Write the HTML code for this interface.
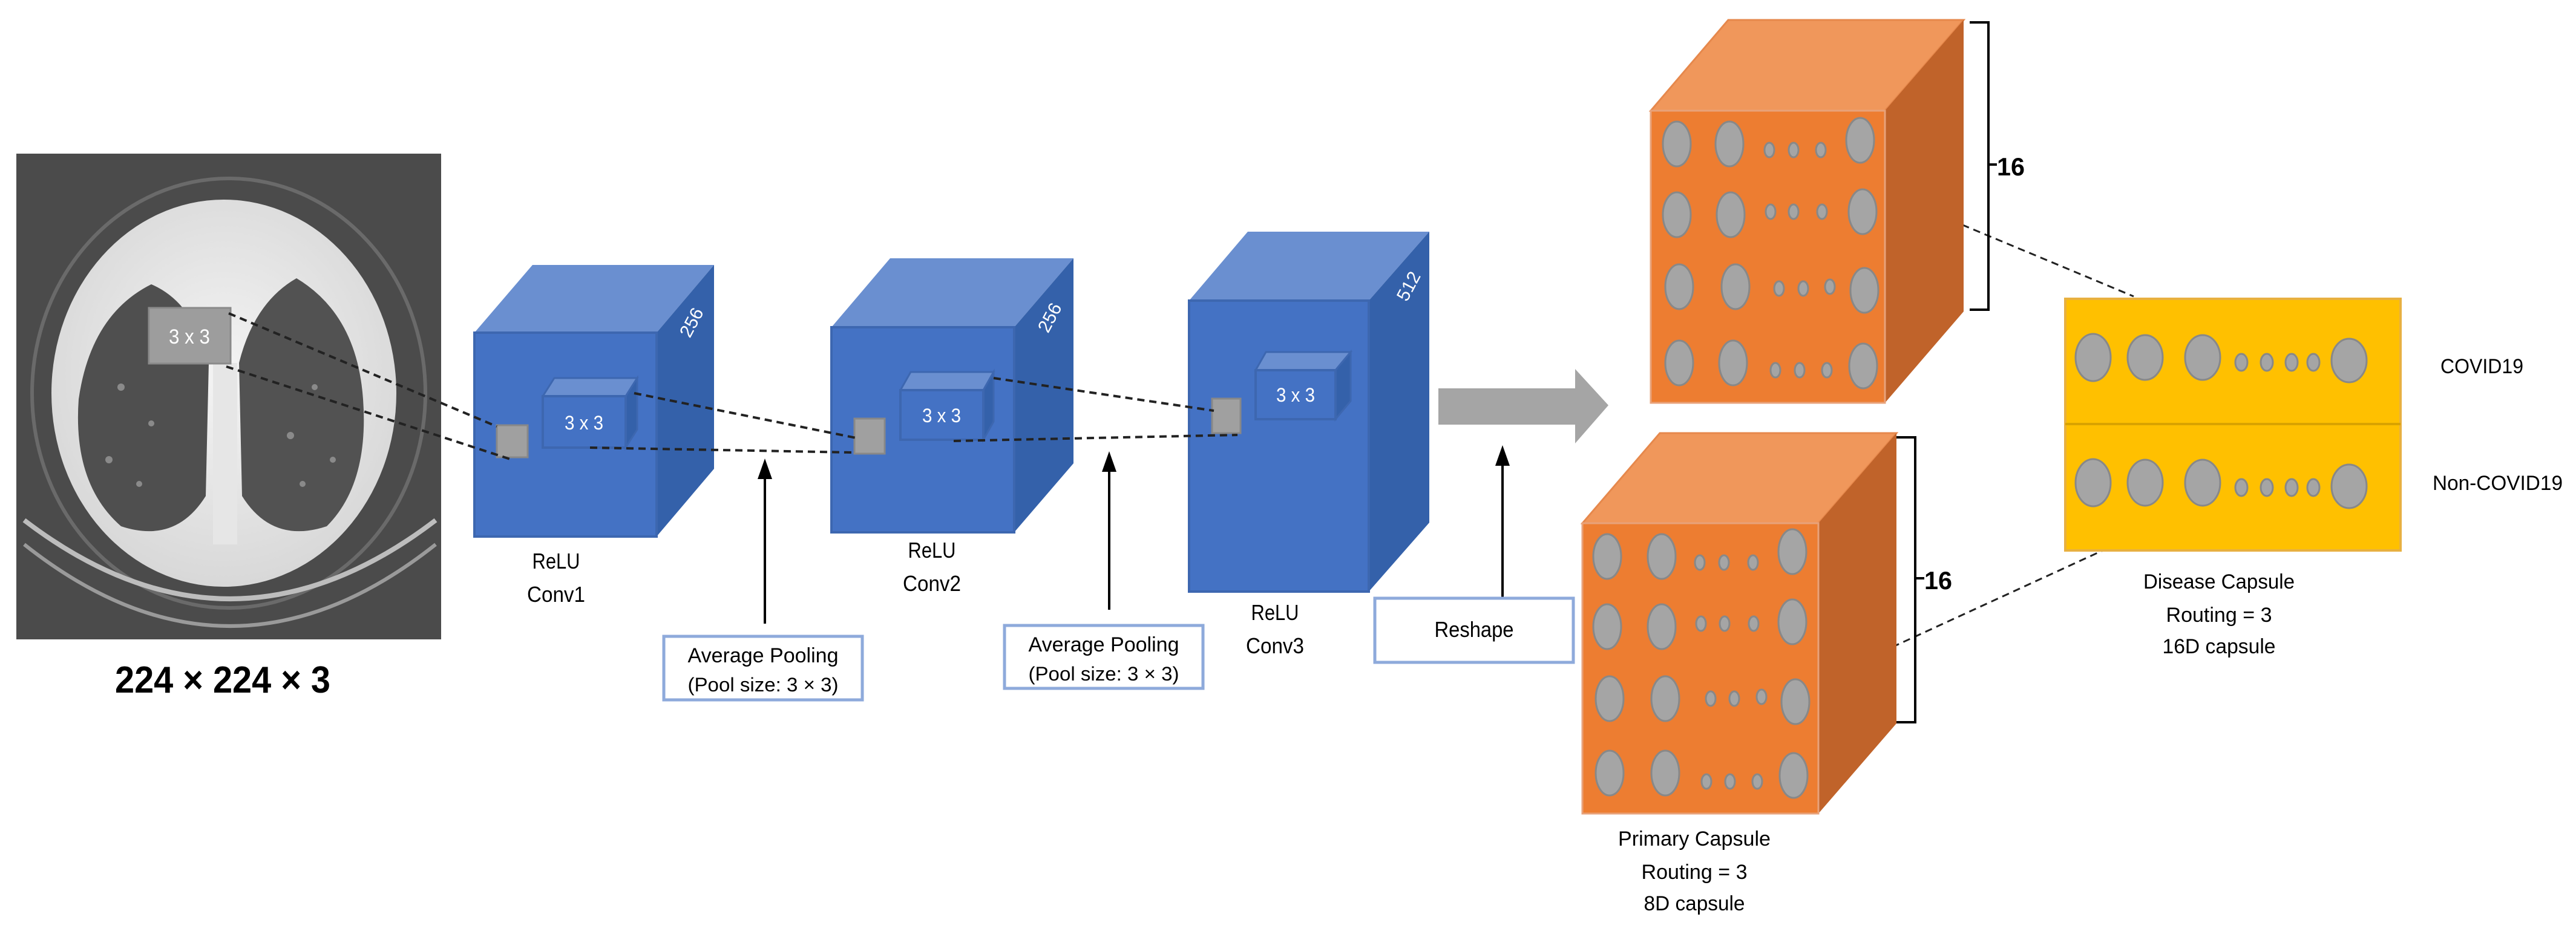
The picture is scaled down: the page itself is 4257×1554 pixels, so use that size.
<!DOCTYPE html>
<html><head><meta charset="utf-8"><style>
html,body{margin:0;padding:0;background:#fff;width:4257px;height:1554px;overflow:hidden}
svg{display:block}
text{font-family:"Liberation Sans Narrow","Liberation Sans",sans-serif;fill:#000}
</style></head><body>
<svg width="4257" height="1554" viewBox="0 0 4257 1554" xmlns="http://www.w3.org/2000/svg">
<defs>
<radialGradient id="body" cx="50%" cy="45%" r="55%"><stop offset="0" stop-color="#f4f4f4"/><stop offset="1" stop-color="#d8d8d8"/></radialGradient>
</defs>

<!-- CT image -->
<rect x="27" y="254" width="702" height="803" fill="#4b4b4b"/>
<ellipse cx="378" cy="650" rx="325" ry="355" fill="none" stroke="#6a6a6a" stroke-width="6"/>
<path d="M40 860 Q380 1120 720 860" fill="none" stroke="#bdbdbd" stroke-width="8"/>
<path d="M40 900 Q380 1170 720 900" fill="none" stroke="#9a9a9a" stroke-width="6"/>
<ellipse cx="370" cy="650" rx="285" ry="320" fill="url(#body)"/>
<path d="M250 470 Q150 520 130 660 Q120 800 200 870 Q290 900 340 820 L345 600 Q320 500 250 470Z" fill="#4f4f4f"/>
<path d="M490 460 Q590 520 600 660 Q610 800 540 870 Q450 900 400 820 L395 600 Q420 500 490 460Z" fill="#525252"/>
<g fill="#8a8a8a"><circle cx="200" cy="640" r="6"/><circle cx="250" cy="700" r="5"/><circle cx="180" cy="760" r="6"/><circle cx="520" cy="640" r="5"/><circle cx="480" cy="720" r="6"/><circle cx="550" cy="760" r="5"/><circle cx="230" cy="800" r="5"/><circle cx="500" cy="800" r="5"/></g>
<rect x="352" y="600" width="40" height="300" fill="#e6e6e6"/>
<rect x="246" y="509" width="135" height="92" fill="#9d9d9d" stroke="#8a8a8a" stroke-width="3"/>
<text x="313" y="568" font-size="34" style="fill:#fff" text-anchor="middle" textLength="68" lengthAdjust="spacingAndGlyphs">3 x 3</text>
<text x="368" y="1145" font-size="62" font-weight="bold" text-anchor="middle" textLength="356" lengthAdjust="spacingAndGlyphs">224 × 224 × 3</text>

<!-- Conv1 -->
<polygon points="784,550 880,438 1180,438 1085,550" fill="#6a8fd0"/>
<polygon points="1085,550 1180,438 1180,775 1085,887" fill="#3461aa"/>
<rect x="784" y="550" width="301" height="337" fill="#4472c4" stroke="#3d67b0" stroke-width="4"/>
<text x="0" y="0" font-size="30" style="fill:#fff" transform="translate(1140,560) rotate(-62)">256</text>
<polygon points="897,655 916,625 1053,625 1034,655" fill="#6a8fd0" stroke="#3d67b0" stroke-width="3"/>
<polygon points="1034,655 1053,625 1053,710 1034,740" fill="#3461aa" stroke="#3d67b0" stroke-width="3"/>
<rect x="897" y="655" width="137" height="85" fill="#4472c4" stroke="#3d67b0" stroke-width="4"/>
<text x="965" y="710" font-size="32" style="fill:#fff" text-anchor="middle" textLength="64" lengthAdjust="spacingAndGlyphs">3 x 3</text>
<rect x="821" y="703" width="51" height="53" fill="#a0a0a0" stroke="#888" stroke-width="3"/>
<text x="919" y="940" font-size="36" text-anchor="middle" textLength="79" lengthAdjust="spacingAndGlyphs">ReLU</text>
<text x="919" y="995" font-size="36" text-anchor="middle" textLength="96" lengthAdjust="spacingAndGlyphs">Conv1</text>

<!-- Conv2 -->
<polygon points="1374,541 1471,427 1774,427 1676,541" fill="#6a8fd0"/>
<polygon points="1676,541 1774,427 1774,766 1676,880" fill="#3461aa"/>
<rect x="1374" y="541" width="302" height="339" fill="#4472c4" stroke="#3d67b0" stroke-width="4"/>
<text x="0" y="0" font-size="30" style="fill:#fff" transform="translate(1732,552) rotate(-62)">256</text>
<polygon points="1488,645 1505,615 1642,615 1625,645" fill="#6a8fd0" stroke="#3d67b0" stroke-width="3"/>
<polygon points="1625,645 1642,615 1642,697 1625,727" fill="#3461aa" stroke="#3d67b0" stroke-width="3"/>
<rect x="1488" y="645" width="137" height="82" fill="#4472c4" stroke="#3d67b0" stroke-width="4"/>
<text x="1556" y="698" font-size="32" style="fill:#fff" text-anchor="middle" textLength="64" lengthAdjust="spacingAndGlyphs">3 x 3</text>
<rect x="1412" y="692" width="50" height="58" fill="#a0a0a0" stroke="#888" stroke-width="3"/>
<text x="1540" y="922" font-size="36" text-anchor="middle" textLength="79" lengthAdjust="spacingAndGlyphs">ReLU</text>
<text x="1540" y="977" font-size="36" text-anchor="middle" textLength="96" lengthAdjust="spacingAndGlyphs">Conv2</text>

<!-- Conv3 -->
<polygon points="1965,497 2062,383 2362,383 2262,497" fill="#6a8fd0"/>
<polygon points="2262,497 2362,383 2362,864 2262,978" fill="#3461aa"/>
<rect x="1965" y="497" width="297" height="481" fill="#4472c4" stroke="#3d67b0" stroke-width="4"/>
<text x="0" y="0" font-size="30" style="fill:#fff" transform="translate(2325,500) rotate(-62)">512</text>
<polygon points="2075,612 2092,582 2232,582 2207,612" fill="#6a8fd0" stroke="#3d67b0" stroke-width="3"/>
<polygon points="2207,612 2232,582 2232,663 2207,693" fill="#3461aa" stroke="#3d67b0" stroke-width="3"/>
<rect x="2075" y="612" width="132" height="81" fill="#4472c4" stroke="#3d67b0" stroke-width="4"/>
<text x="2141" y="664" font-size="32" style="fill:#fff" text-anchor="middle" textLength="64" lengthAdjust="spacingAndGlyphs">3 x 3</text>
<rect x="2003" y="659" width="47" height="57" fill="#a0a0a0" stroke="#888" stroke-width="3"/>
<text x="2107" y="1025" font-size="36" text-anchor="middle" textLength="79" lengthAdjust="spacingAndGlyphs">ReLU</text>
<text x="2107" y="1080" font-size="36" text-anchor="middle" textLength="96" lengthAdjust="spacingAndGlyphs">Conv3</text>

<!-- dashed lines -->
<g stroke="#222" stroke-width="4" stroke-dasharray="12,8" fill="none">
<line x1="378" y1="518" x2="821" y2="705"/>
<line x1="374" y1="606" x2="843" y2="759"/>
<line x1="1048" y1="650" x2="1415" y2="724"/>
<line x1="975" y1="740" x2="1408" y2="748"/>
<line x1="1642" y1="625" x2="2006" y2="679"/>
<line x1="1576" y1="729" x2="2045" y2="719"/>
<line x1="3095" y1="310" x2="3526" y2="490" stroke-width="3"/>
<line x1="3109" y1="1078" x2="3488" y2="904" stroke-width="3"/>
</g>

<!-- pooling arrows & boxes -->
<g stroke="#000" stroke-width="4">
<line x1="1264" y1="1031" x2="1264" y2="790"/>
<line x1="1833" y1="1008" x2="1833" y2="778"/>
<line x1="2483" y1="990" x2="2483" y2="765"/>
</g>
<polygon points="1264,758 1252,792 1276,792" fill="#000"/>
<polygon points="1833,746 1821,780 1845,780" fill="#000"/>
<polygon points="2483,736 2471,770 2495,770" fill="#000"/>
<rect x="1097" y="1052" width="328" height="105" fill="#fff" stroke="#8eaadb" stroke-width="5"/>
<text x="1261" y="1095" font-size="34" text-anchor="middle" textLength="249" lengthAdjust="spacingAndGlyphs">Average Pooling</text>
<text x="1261" y="1143" font-size="32" text-anchor="middle" textLength="249" lengthAdjust="spacingAndGlyphs">(Pool size: 3 × 3)</text>
<rect x="1660" y="1034" width="328" height="104" fill="#fff" stroke="#8eaadb" stroke-width="5"/>
<text x="1824" y="1077" font-size="34" text-anchor="middle" textLength="249" lengthAdjust="spacingAndGlyphs">Average Pooling</text>
<text x="1824" y="1125" font-size="32" text-anchor="middle" textLength="249" lengthAdjust="spacingAndGlyphs">(Pool size: 3 × 3)</text>
<rect x="2272" y="989" width="328" height="106" fill="#fff" stroke="#8eaadb" stroke-width="5"/>
<text x="2436" y="1053" font-size="36" text-anchor="middle" textLength="131" lengthAdjust="spacingAndGlyphs">Reshape</text>

<!-- big gray arrow -->
<polygon points="2377,642 2603,642 2603,610 2658,670 2603,733 2603,702 2377,702" fill="#a5a5a5"/>

<!-- top orange cube -->
<polygon points="2728,183 2856,33 3245,33 3115,183" fill="#f0975b" stroke="#e6884c" stroke-width="3"/>
<polygon points="3115,183 3245,33 3245,515 3115,666" fill="#c0632a"/>
<rect x="2728" y="183" width="387" height="483" fill="#ed7d31" stroke="#e8a27a" stroke-width="3"/>
<g fill="#a5a5a5" stroke="#888" stroke-width="3">
<ellipse cx="2771" cy="238" rx="23" ry="37"/><ellipse cx="2858" cy="238" rx="23" ry="37"/><ellipse cx="2924" cy="248" rx="8" ry="12"/><ellipse cx="2964" cy="248" rx="8" ry="12"/><ellipse cx="3009" cy="248" rx="8" ry="12"/><ellipse cx="3074" cy="232" rx="23" ry="37"/>
<ellipse cx="2771" cy="355" rx="23" ry="37"/><ellipse cx="2860" cy="355" rx="23" ry="37"/><ellipse cx="2926" cy="350" rx="8" ry="12"/><ellipse cx="2964" cy="350" rx="8" ry="12"/><ellipse cx="3011" cy="350" rx="8" ry="12"/><ellipse cx="3078" cy="350" rx="23" ry="37"/>
<ellipse cx="2775" cy="474" rx="23" ry="37"/><ellipse cx="2868" cy="474" rx="23" ry="37"/><ellipse cx="2940" cy="477" rx="8" ry="12"/><ellipse cx="2980" cy="477" rx="8" ry="12"/><ellipse cx="3024" cy="474" rx="8" ry="12"/><ellipse cx="3081" cy="480" rx="23" ry="37"/>
<ellipse cx="2775" cy="600" rx="23" ry="37"/><ellipse cx="2864" cy="600" rx="23" ry="37"/><ellipse cx="2934" cy="612" rx="8" ry="12"/><ellipse cx="2974" cy="612" rx="8" ry="12"/><ellipse cx="3019" cy="612" rx="8" ry="12"/><ellipse cx="3079" cy="605" rx="23" ry="37"/>
</g>
<path d="M3255 37 H3286 V512 H3255 M3286 272 H3300" fill="none" stroke="#000" stroke-width="4"/>
<text x="3300" y="290" font-size="42" font-weight="bold" style="font-family:'Liberation Sans',sans-serif" textLength="46" lengthAdjust="spacingAndGlyphs">16</text>

<!-- bottom orange cube -->
<polygon points="2615,865 2743,716 3134,716 3005,865" fill="#f0975b" stroke="#e6884c" stroke-width="3"/>
<polygon points="3005,865 3134,716 3134,1196 3005,1345" fill="#c0632a"/>
<rect x="2615" y="865" width="390" height="480" fill="#ed7d31" stroke="#e8a27a" stroke-width="3"/>
<g fill="#a5a5a5" stroke="#888" stroke-width="3">
<ellipse cx="2656" cy="920" rx="23" ry="37"/><ellipse cx="2746" cy="920" rx="23" ry="37"/><ellipse cx="2809" cy="930" rx="8" ry="12"/><ellipse cx="2849" cy="930" rx="8" ry="12"/><ellipse cx="2897" cy="930" rx="8" ry="12"/><ellipse cx="2962" cy="912" rx="23" ry="37"/>
<ellipse cx="2656" cy="1036" rx="23" ry="37"/><ellipse cx="2746" cy="1036" rx="23" ry="37"/><ellipse cx="2811" cy="1031" rx="8" ry="12"/><ellipse cx="2850" cy="1031" rx="8" ry="12"/><ellipse cx="2898" cy="1031" rx="8" ry="12"/><ellipse cx="2962" cy="1028" rx="23" ry="37"/>
<ellipse cx="2660" cy="1155" rx="23" ry="37"/><ellipse cx="2752" cy="1155" rx="23" ry="37"/><ellipse cx="2827" cy="1155" rx="8" ry="12"/><ellipse cx="2866" cy="1155" rx="8" ry="12"/><ellipse cx="2911" cy="1152" rx="8" ry="12"/><ellipse cx="2967" cy="1160" rx="23" ry="37"/>
<ellipse cx="2660" cy="1278" rx="23" ry="37"/><ellipse cx="2752" cy="1278" rx="23" ry="37"/><ellipse cx="2820" cy="1292" rx="8" ry="12"/><ellipse cx="2859" cy="1292" rx="8" ry="12"/><ellipse cx="2904" cy="1292" rx="8" ry="12"/><ellipse cx="2964" cy="1282" rx="23" ry="37"/>
</g>
<path d="M3134 723 H3165 V1194 H3134 M3165 956 H3180" fill="none" stroke="#000" stroke-width="4"/>
<text x="3180" y="974" font-size="42" font-weight="bold" style="font-family:'Liberation Sans',sans-serif" textLength="46" lengthAdjust="spacingAndGlyphs">16</text>
<text x="2800" y="1398" font-size="34" text-anchor="middle" textLength="252" lengthAdjust="spacingAndGlyphs">Primary Capsule</text>
<text x="2800" y="1453" font-size="34" text-anchor="middle" textLength="175" lengthAdjust="spacingAndGlyphs">Routing = 3</text>
<text x="2800" y="1505" font-size="34" text-anchor="middle" textLength="167" lengthAdjust="spacingAndGlyphs">8D capsule</text>

<!-- yellow disease capsule -->
<rect x="3413" y="494" width="554" height="416" fill="#ffc000" stroke="#e8b040" stroke-width="4"/>
<line x1="3413" y1="701" x2="3967" y2="701" stroke="#d9a300" stroke-width="4"/>
<g fill="#a5a5a5" stroke="#888" stroke-width="3">
<ellipse cx="3459" cy="591" rx="29" ry="39"/><ellipse cx="3545" cy="591" rx="29" ry="37"/><ellipse cx="3640" cy="591" rx="29" ry="37"/><ellipse cx="3704" cy="599" rx="10" ry="14"/><ellipse cx="3746" cy="599" rx="10" ry="14"/><ellipse cx="3787" cy="599" rx="10" ry="14"/><ellipse cx="3823" cy="599" rx="10" ry="14"/><ellipse cx="3882" cy="596" rx="29" ry="36"/>
<ellipse cx="3459" cy="798" rx="29" ry="39"/><ellipse cx="3545" cy="798" rx="29" ry="38"/><ellipse cx="3640" cy="798" rx="29" ry="38"/><ellipse cx="3704" cy="806" rx="10" ry="14"/><ellipse cx="3746" cy="806" rx="10" ry="14"/><ellipse cx="3787" cy="806" rx="10" ry="14"/><ellipse cx="3823" cy="806" rx="10" ry="14"/><ellipse cx="3882" cy="804" rx="29" ry="36"/>
</g>
<text x="4033" y="617" font-size="34" textLength="137" lengthAdjust="spacingAndGlyphs">COVID19</text>
<text x="4020" y="810" font-size="34" textLength="215" lengthAdjust="spacingAndGlyphs">Non-COVID19</text>
<text x="3667" y="973" font-size="34" text-anchor="middle" textLength="250" lengthAdjust="spacingAndGlyphs">Disease Capsule</text>
<text x="3667" y="1028" font-size="34" text-anchor="middle" textLength="175" lengthAdjust="spacingAndGlyphs">Routing = 3</text>
<text x="3667" y="1080" font-size="34" text-anchor="middle" textLength="187" lengthAdjust="spacingAndGlyphs">16D capsule</text>
</svg>
</body></html>
